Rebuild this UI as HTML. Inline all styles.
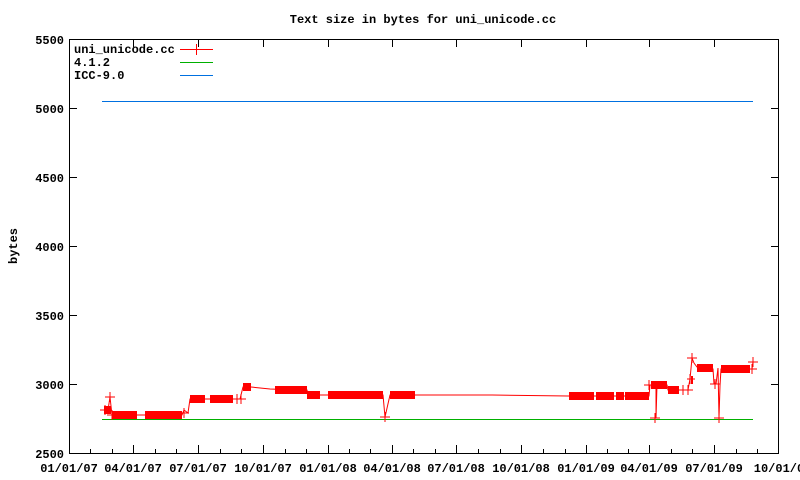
<!DOCTYPE html>
<html><head><meta charset="utf-8"><style>
body{margin:0;background:#fff}
svg{display:block}
text{font-family:"Liberation Mono",monospace;font-size:12px;font-weight:bold;fill:#000}
</style></head><body>
<svg width="800" height="480" xmlns="http://www.w3.org/2000/svg">
<rect width="800" height="480" fill="#fff"/>
<text x="423" y="23" text-anchor="middle">Text size in bytes for uni_unicode.cc</text>
<text transform="translate(17,246) rotate(-90)" text-anchor="middle">bytes</text>
<g stroke="#000" stroke-width="1" fill="none">
<rect x="69.5" y="39.5" width="709" height="414"/>
<path d="M69 108.5h8M771 108.5h8M69 177.5h8M771 177.5h8M69 246.5h8M771 246.5h8M69 315.5h8M771 315.5h8M69 384.5h8M771 384.5h8"/>
<path d="M133.5 453v-8M198.5 453v-8M263.5 453v-8M328.5 453v-8M392.5 453v-8M456.5 453v-8M521.5 453v-8M586.5 453v-8M649.5 453v-8M714.5 453v-8M133.5 39v8M198.5 39v8M263.5 39v8M328.5 39v8M392.5 39v8M456.5 39v8M521.5 39v8M586.5 39v8M649.5 39v8M714.5 39v8"/>
<path d="M90.5 453v-4M112.5 453v-4M155.5 453v-4M176.5 453v-4M220.5 453v-4M241.5 453v-4M285.5 453v-4M306.5 453v-4M349.5 453v-4M370.5 453v-4M413.5 453v-4M435.5 453v-4M478.5 453v-4M500.5 453v-4M543.5 453v-4M565.5 453v-4M607.5 453v-4M628.5 453v-4M671.5 453v-4M692.5 453v-4M736.5 453v-4M757.5 453v-4"/>
</g>
<g text-anchor="end">
<text x="64" y="44">5500</text><text x="64" y="113">5000</text><text x="64" y="182">4500</text>
<text x="64" y="251">4000</text><text x="64" y="320">3500</text><text x="64" y="389">3000</text><text x="64" y="458">2500</text>
</g>
<g text-anchor="middle">
<text x="69" y="472">01/01/07</text><text x="133" y="472">04/01/07</text><text x="198" y="472">07/01/07</text>
<text x="263" y="472">10/01/07</text><text x="328" y="472">01/01/08</text><text x="392" y="472">04/01/08</text>
<text x="456" y="472">07/01/08</text><text x="521" y="472">10/01/08</text><text x="586" y="472">01/01/09</text>
<text x="649" y="472">04/01/09</text><text x="714" y="472">07/01/09</text><text x="779" y="472">10/01/0</text>
</g>
<text x="74" y="53">uni_unicode.cc</text><text x="74" y="66">4.1.2</text><text x="74" y="79">ICC-9.0</text>
<path d="M180 49.5h33M196.5 44v11" stroke="#f00"/>
<path d="M180 62.5h33" stroke="#00b000"/>
<path d="M180 75.5h33" stroke="#0070e0"/>
<path d="M102 101.5H753" stroke="#0070e0"/>
<path d="M102 419.5H753" stroke="#00b000"/>
<g stroke="#f00" fill="none">
<polyline stroke-width="1" points="102,410 108,410 110,397 112,415 137,415 145,415 182,415 184,410 188,413 190,399 205,399 233,399 240,399 243,387 251,387 270,389 297,390 307,390 308,395 320,395 383,395 385,417 390,395 415,395 492,395 568,396 649,396 650,385 656,385 656,418 657,385 667,385 668,390 679,390 688,390 690,379 692,358 694,363 697,367 700,369 713,369 714,384 716,384 718,368 719,418 720,386 721,369 750,369 752,369 753,362"/>
<g stroke-width="8">
<path d="M104 410h7M112 415h25M145 415h37M190 399h15M210 399h23M243 387h8M275 390h32M307 395h13M328 395h55M390 395h25M569 396h25M596 396h18M616 396h8M625 396h24M651 385h16M668 390h11M691 380h2M697 368h16M721 369h29"/>
</g>
<path stroke-width="1" d="M100 410h10M105 405v10M105 397h10M110 392v10M107 415h10M112 410v10M179 413h10M184 408v10M234 399h8M237 394v10M238 399h8M241 394v10M680 390h8M683 385v10M685 390h8M688 385v10M687 379h8M690 374v10M687 358h10M692 353v10M710 384h10M715 379v10M650 418h10M655 413v10M714 418h10M719 413v10M380 417h10M385 412v10M749 369h8M752 364v10M748 362h10M753 357v10M644 385h10M649 380v10"/>
</g>
</svg>
</body></html>
